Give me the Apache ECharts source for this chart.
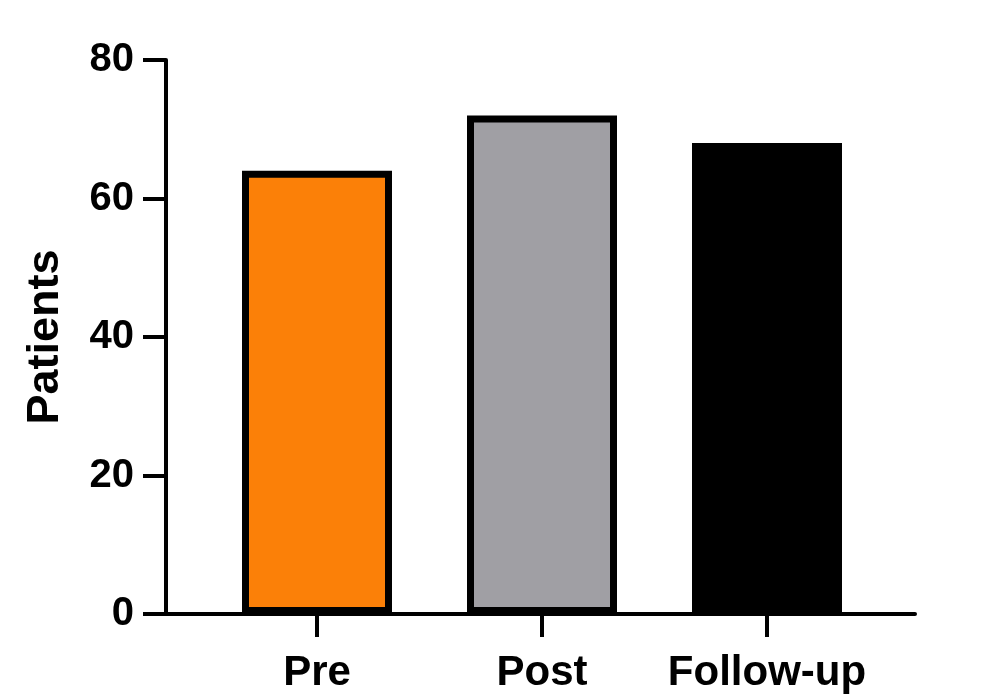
<!DOCTYPE html>
<html>
<head>
<meta charset="utf-8">
<script src="https://cdn.jsdelivr.net/npm/echarts@6/dist/echarts.min.js"></script>
<style>html,body{margin:0;padding:0;background:#fff}#c{width:986px;height:699px}</style>
</head>
<body>
<div id="c"></div>
<script>
const categories = ['Pre', 'Post', 'Follow-up'];
const patients = [64, 72, 68];
const barColors = ['#FB8008', '#A09FA4', '#000000'];
const yTicks = [0, 20, 40, 60, 80];
const yName = 'Patients';

const FONT = '"Liberation Sans", Arial, Helvetica, sans-serif';
const chart = echarts.init(document.getElementById('c'), null, {renderer: 'canvas'});
chart.setOption({
  animation: false,
  backgroundColor: '#fff',
  grid: [
    {left: 204.5, right: 106.5, top: 60, bottom: 85},
    {left: 166, right: 71, top: 60, bottom: 85}
  ],
  xAxis: [
    {
      type: 'category', gridIndex: 0, data: categories, boundaryGap: true,
      axisLine: {show: false},
      axisTick: {show: true, alignWithLabel: true, length: 23, lineStyle: {color: '#000', width: 4}},
      axisLabel: {interval: 0, hideOverlap: false, color: '#000', fontFamily: FONT, fontWeight: 'bold', fontSize: 42, margin: 38}
    },
    {
      type: 'value', gridIndex: 1, min: 0, max: 1,
      axisLine: {show: true, onZero: false, lineStyle: {color: '#000', width: 4}},
      axisTick: {show: false}, axisLabel: {show: false}, splitLine: {show: false}
    }
  ],
  yAxis: [
    {
      type: 'value', gridIndex: 0, min: yTicks[0], max: yTicks[yTicks.length - 1], interval: 20,
      show: false
    },
    {
      type: 'value', gridIndex: 1, min: yTicks[0], max: yTicks[yTicks.length - 1], interval: 20,
      name: yName, nameLocation: 'middle', nameGap: 98, nameRotate: 90,
      nameTextStyle: {color: '#000', fontFamily: FONT, fontWeight: 'bold', fontSize: 45},
      axisLine: {show: true, lineStyle: {color: '#000', width: 4}},
      axisTick: {show: true, length: 23, lineStyle: {color: '#000', width: 4}},
      axisLabel: {color: '#000', fontFamily: FONT, fontWeight: 'bold', fontSize: 40, margin: 32},
      splitLine: {show: false}
    }
  ],
  series: [{
    type: 'bar', xAxisIndex: 0, yAxisIndex: 0,
    barWidth: 150,
    data: patients.map((v, i) => ({
      value: v,
      itemStyle: {color: barColors[i], borderColor: '#000', borderWidth: 7}
    }))
  }]
});
</script>
</body>
</html>
